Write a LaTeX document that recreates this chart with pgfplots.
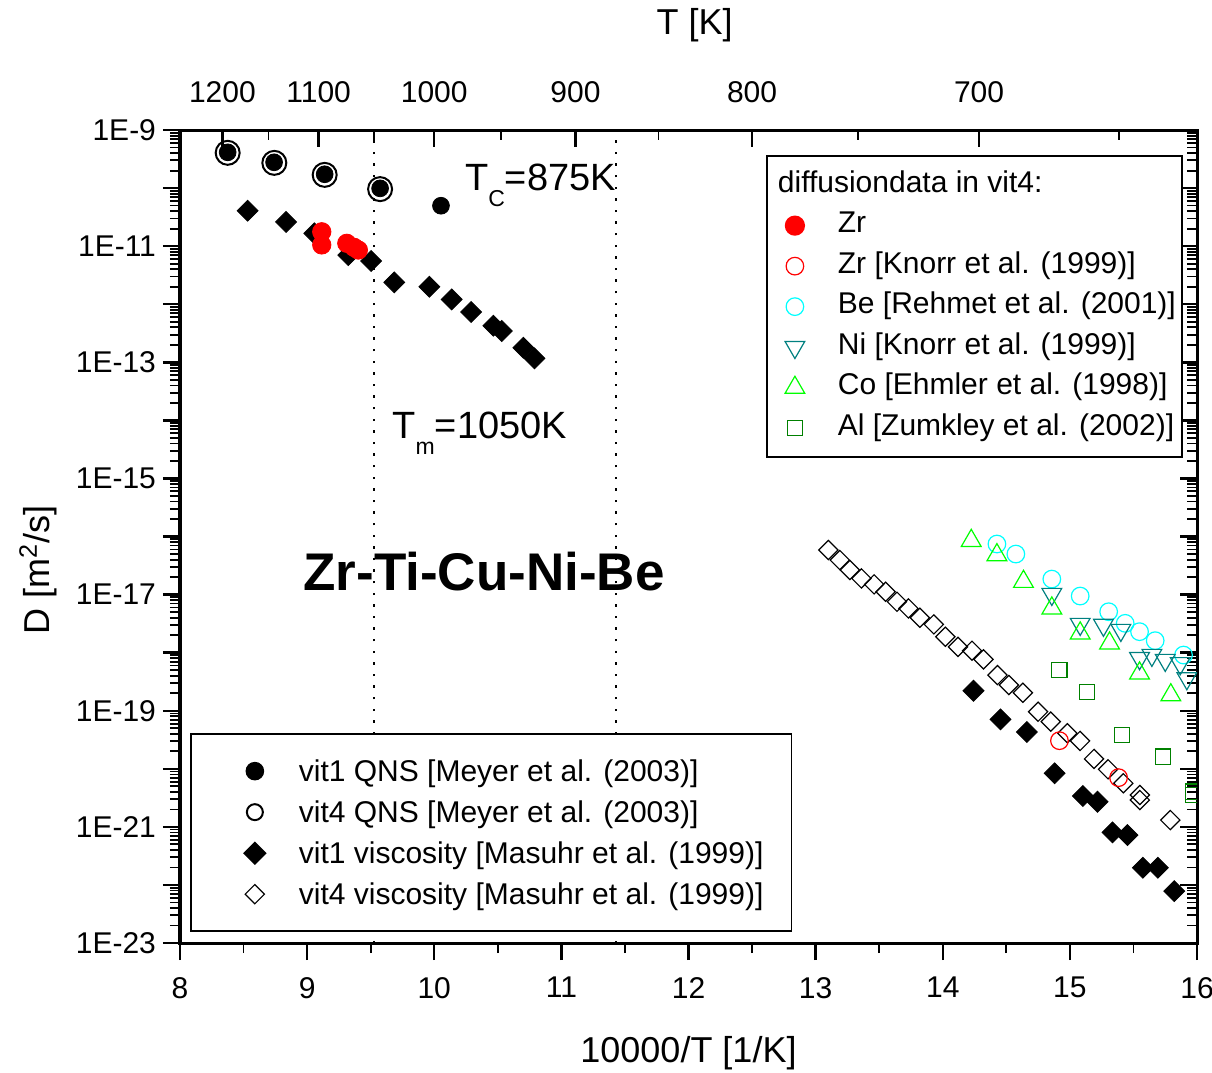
\documentclass[border=0pt]{standalone}
\usepackage{pgfplots}
\pgfplotsset{compat=1.18}
\usepackage{fontspec}
\setmainfont{Liberation Sans}
\setsansfont{Liberation Sans}
\definecolor{zrred}{RGB}{255,0,0}
\definecolor{becyan}{RGB}{0,255,255}
\definecolor{niteal}{RGB}{0,128,128}
\definecolor{cogreen}{RGB}{0,255,0}
\definecolor{algreen}{RGB}{0,128,0}
\pgfplotsset{
  dfbase/.style={
    scale only axis, width=508.5pt, height=406.5pt,
    xmin=8, xmax=16, ymin=1e-23, ymax=1e-9,
    axis line style={line width=1.5pt},
    /pgf/number format/assume math mode=true,
    major tick length=8.5pt, minor tick length=5pt,
    every major tick/.append style={line width=1.2pt, black},
    every minor tick/.append style={line width=0.9pt, black},
    ytick={1e-23,1e-22,1e-21,1e-20,1e-19,1e-18,1e-17,1e-16,1e-15,1e-14,1e-13,1e-12,1e-11,1e-10,1e-9},
    clip marker paths=true,
    legend cell align=left,
  },
  dflegA/.style={legend image code/.code={\path[draw=none,fill=none] (-11pt,0pt) -- (21.5pt,0pt); \draw[##1] plot coordinates {(0pt,0pt)};}},
  dflegB/.style={legend image code/.code={\path[draw=none,fill=none] (-18pt,0pt) -- (22pt,0pt); \draw[##1] plot coordinates {(0pt,0pt)};}},
  dflegC/.style={legend image code/.code={\path[draw=none,fill=none] (-18pt,0pt) -- (22pt,0pt); \draw[##1, mark size=4pt] plot coordinates {(0pt,0pt)};}},
}
\begin{document}
\begin{tikzpicture}
\begin{semilogyaxis}[dfbase,
  tick align=outside,
  xtick pos=left, ytick pos=left,
  xtick={8,9,10,11,12,13,14,15,16}, minor x tick num=1,
  yticklabels={1E-23,,1E-21,,1E-19,,1E-17,,1E-15,,1E-13,,1E-11,,1E-9},
  ticklabel style={font=\fontsize{15}{17}\selectfont},
  xticklabel style={yshift=-5pt},
  xlabel={10000/T [1/K]}, ylabel={D [m\textsuperscript{2}/s]},
  label style={font=\fontsize{18}{20}\selectfont},
  xlabel style={at={(axis description cs:0.5,-0.135)}, anchor=center},
  ylabel style={at={(axis description cs:-0.1396,0.459)}, anchor=center},
  legend style={at={(rel axis cs:0.0098,0.0135)}, anchor=south west,
    draw=black, line width=0.9pt, fill=white,
    font=\fontsize{15}{18}\selectfont, inner xsep=14pt, inner ysep=9pt, row sep=1.5pt,
    nodes={inner ysep=2pt, inner xsep=0pt, text height=12.5pt, text depth=2.5pt}},
]
\addplot[forget plot, black, line width=1pt, dash pattern=on 1.2pt off 4.6pt] coordinates {(9.5238,1e-23) (9.5238,1e-9)};
\addplot[forget plot, black, line width=1pt, dash pattern=on 1.2pt off 4.6pt] coordinates {(11.4286,1e-23) (11.4286,1e-9)};
% vit1 QNS
\addplot[only marks, mark=*, mark size=4.2pt, black, dflegB] coordinates {
(8.375,4.13e-10) (8.740,2.78e-10) (9.138,1.73e-10) (9.574,9.9e-11) (10.053,4.97e-11)};
\addlegendentry{vit1 QNS [Meyer et al. (2003)]}
% vit4 QNS
\addplot[only marks, mark=o, mark size=6pt, black, mark options={line width=1pt}, dflegC] coordinates {
(8.375,4.05e-10) (8.742,2.72e-10) (9.138,1.69e-10) (9.574,9.6e-11)};
\addlegendentry{vit4 QNS [Meyer et al. (2003)]}
% vit1 viscosity
\addplot[only marks, mark=square*, mark size=3.7pt, black, mark options={rotate=45}, dflegB] coordinates {
(8.532,4.08e-11) (8.834,2.61e-11) (9.057,1.66e-11) (9.324,7.03e-12) (9.503,5.55e-12)
(9.686,2.38e-12) (9.962,2.00e-12) (10.137,1.21e-12) (10.290,7.35e-13) (10.465,4.27e-13)
(10.531,3.46e-13) (10.701,1.78e-13) (10.788,1.17e-13)
(14.242,2.21e-19) (14.454,7.11e-20) (14.662,4.30e-20) (14.880,8.36e-21) (15.102,3.40e-21)
(15.217,2.71e-21) (15.335,8.05e-22) (15.453,7.24e-22) (15.574,1.98e-22) (15.692,1.98e-22)
(15.821,7.85e-23)};
\addlegendentry{vit1 viscosity [Masuhr et al. (1999)]}
% vit4 viscosity
\addplot[only marks, mark=square, mark size=3.4pt, black, mark options={rotate=45, line width=0.6pt}, dflegB] coordinates {
(13.10,5.85e-17) (13.19,3.94e-17) (13.27,2.65e-17) (13.36,1.90e-17) (13.46,1.50e-17)
(13.55,1.12e-17) (13.64,7.53e-18) (13.73,5.78e-18) (13.82,3.99e-18) (13.93,3.07e-18)
(14.02,1.88e-18) (14.12,1.26e-18) (14.23,1.08e-18) (14.32,7.66e-19) (14.43,4.11e-19)
(14.52,2.77e-19) (14.63,2.04e-19) (14.75,9.64e-20) (14.85,6.49e-20) (14.98,4.09e-20)
(15.08,3.02e-20) (15.19,1.48e-20) (15.30,9.82e-21) (15.42,5.64e-21) (15.55,3.54e-21)
(15.55,2.90e-21) (15.79,1.31e-21) (16.05,3.4e-22) (16.05,2.4e-22)};
\addlegendentry{vit4 viscosity [Masuhr et al. (1999)]}
\node[anchor=base west, font=\fontsize{19}{20}\selectfont, inner sep=0pt] at (axis cs:10.24,9.27e-11) {T\raisebox{-8pt}{\fontsize{11.5}{12}\selectfont C}=875K};
\node[anchor=base west, font=\fontsize{19}{20}\selectfont, inner sep=0pt] at (axis cs:9.668,4.78e-15) {T\raisebox{-8pt}{\fontsize{11.5}{12}\selectfont m}=1050K};
\node[anchor=base, font=\bfseries\fontsize{26.5}{28}\selectfont, inner sep=0pt] at (axis cs:10.392,1.2e-17) {Zr-Ti-Cu-Ni-Be};
\end{semilogyaxis}
\begin{semilogyaxis}[dfbase,
  tick align=inside,
  xtick pos=right, xticklabel pos=right, ytick pos=right, yticklabel pos=right,
  xtick={8.3333,9.0909,10,11.1111,12.5,14.2857},
  xticklabels={1200,1100,1000,900,800,700},
  minor xtick={8.6957,9.5238,10.5263,11.7647,13.3333,15.3846},
  yticklabels={},
  xticklabel style={font=\fontsize{15}{17}\selectfont, yshift=10pt},
  xlabel={T [K]},
  xlabel style={at={(axis description cs:0.506,1.129)}, anchor=center, font=\fontsize{18}{20}\selectfont},
  legend style={at={(rel axis cs:0.986,0.969)}, anchor=north east,
    draw=black, line width=0.9pt, fill=white,
    font=\fontsize{15}{18}\selectfont, inner xsep=3pt, inner ysep=5pt, row sep=1.25pt,
    nodes={inner ysep=2pt, inner xsep=0pt, text height=11pt, text depth=4pt}},
]
\addlegendimage{empty legend}
\addlegendentry{\hspace*{-30pt}diffusiondata in vit4:}
% Zr (this work)
\addplot[only marks, mark=*, mark size=4.6pt, zrred, dflegA] coordinates {
(9.115,1.77e-11) (9.115,1.05e-11) (9.312,1.12e-11) (9.369,9.55e-12) (9.403,8.58e-12)};
\addlegendentry{Zr}
% Zr Knorr
\addplot[only marks, mark=o, mark size=4.4pt, zrred, mark options={line width=0.6pt}, dflegA] coordinates {
(14.918,3.05e-20) (15.383,7.05e-21)};
\addlegendentry{Zr [Knorr et al. (1999)]}
% Be Rehmet
\addplot[only marks, mark=o, mark size=4.4pt, becyan, mark options={line width=0.6pt}, dflegA] coordinates {
(14.426,7.43e-17) (14.575,4.99e-17) (14.858,1.85e-17) (15.081,9.44e-18) (15.305,5.07e-18)
(15.435,3.20e-18) (15.548,2.30e-18) (15.671,1.61e-18) (15.894,9.10e-19) (16.02,6.6e-19)};
\addlegendentry{Be [Rehmet et al. (2001)]}
% Ni Knorr
\addplot[only marks, mark=triangle, mark size=5.7pt, niteal, mark options={rotate=180, line width=0.6pt}, dflegA] coordinates {
(14.858,1.02e-17) (15.081,3.11e-18) (15.264,3.00e-18) (15.401,2.45e-18) (15.548,8.0e-19)
(15.645,9.10e-19) (15.750,7.46e-19) (15.868,6.55e-19) (15.920,3.61e-19)};
\addlegendentry{Ni [Knorr et al. (1999)]}
% Co Ehmler
\addplot[only marks, mark=triangle, mark size=5.7pt, cogreen, mark options={line width=0.6pt}, dflegA] coordinates {
(14.224,8.47e-17) (14.426,4.81e-17) (14.635,1.67e-17) (14.858,5.81e-18) (15.081,2.16e-18)
(15.312,1.45e-18) (15.548,4.42e-19) (15.794,1.86e-19) (16.03,5.4e-20)};
\addlegendentry{Co [Ehmler et al. (1998)]}
% Al Zumkley
\addplot[only marks, mark=square, mark size=3.8pt, algreen, mark options={line width=0.6pt}, dflegA] coordinates {
(14.918,5.02e-19) (15.134,2.08e-19) (15.409,3.82e-20) (15.732,1.62e-20) (15.968,4.04e-21) (15.968,3.55e-21)};
\addlegendentry{Al [Zumkley et al. (2002)]}
\end{semilogyaxis}
\pgfresetboundingbox
\path[use as bounding box] ([shift={(-90pt,-64.5pt)}]current axis.south west) rectangle ([shift={(7.5pt,65pt)}]current axis.north east);
\end{tikzpicture}
\end{document}
